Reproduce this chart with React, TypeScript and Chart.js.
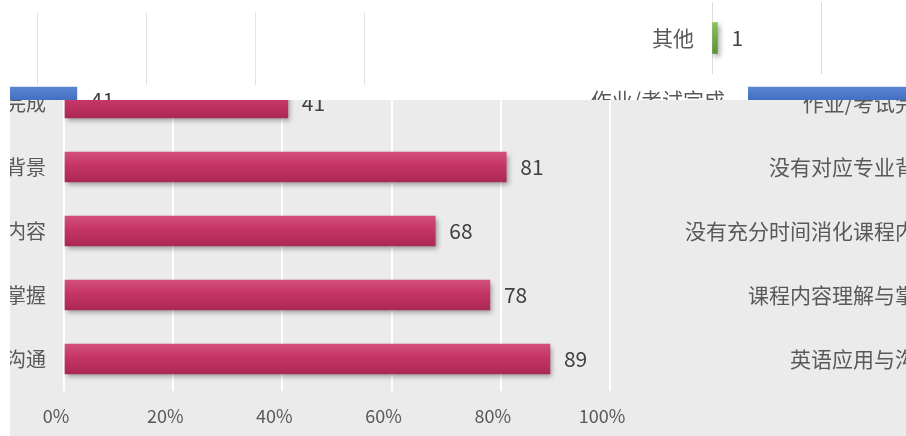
import React, { useEffect, useRef } from "react";
import { Chart, registerables } from "chart.js";
Chart.register(...registerables);

// ---- data ----
const categories = ["作业/考试完成", "没有对应专业背景", "没有充分时间消化课程内容", "课程内容理解与掌握", "英语应用与沟通"];
const counts = [41, 81, 68, 78, 89];
const blueCategory = ["作业/考试完成"];
const blueCount = [41];
const otherCategory = ["其他"];
const otherCount = [1];
const xTickValues = [0, 20, 40, 60, 80, 100];
const xTickLabels = ["0%", "20%", "40%", "60%", "80%", "100%"];

const FONT = '"Noto Sans CJK SC", "Noto Sans", sans-serif';
const TEXT = "#595959";
const PINK: [string, string, string] = ["#d3507c", "#c43566", "#ab2856"];
const BLUE: [string, string, string] = ["#5b87d2", "#4472c4", "#3a62ad"];
const GREEN: [string, string, string] = ["#88c45c", "#70ad47", "#5c953a"];

function barGradient(c3: [string, string, string], half: number) {
  return (c: any) => {
    const chart = c.chart;
    const y = chart.scales && chart.scales.y;
    if (!y || c.dataIndex === undefined) return c3[1];
    const py = y.getPixelForValue(c.dataIndex);
    if (!isFinite(py)) return c3[1];
    const g = chart.ctx.createLinearGradient(0, py - half, 0, py + half);
    g.addColorStop(0, c3[0]);
    g.addColorStop(0.45, c3[1]);
    g.addColorStop(1, c3[2]);
    return g;
  };
}

const shadowPlugin = {
  id: "barShadow",
  beforeDatasetsDraw(chart: any) {
    const c = chart.ctx;
    c.save();
    c.shadowColor = "rgba(0,0,0,0.35)";
    c.shadowBlur = 5;
    c.shadowOffsetX = 2;
    c.shadowOffsetY = 3;
  },
  afterDatasetsDraw(chart: any) {
    chart.ctx.restore();
  },
};

const valueLabelPlugin = {
  id: "valueLabels",
  afterDatasetsDraw(chart: any, _args: any, opts: any) {
    if (!opts || !opts.show) return;
    const ctx = chart.ctx;
    ctx.save();
    ctx.font = `${opts.size}px ${FONT}`;
    ctx.fillStyle = opts.color;
    ctx.textAlign = "left";
    ctx.textBaseline = "middle";
    chart.data.datasets.forEach((ds: any, di: number) => {
      const meta = chart.getDatasetMeta(di);
      meta.data.forEach((el: any, i: number) => {
        ctx.fillText(String(ds.data[i]), el.x + opts.offset, el.y);
      });
    });
    ctx.restore();
  },
};

type Rect = { left: number; top: number; width: number; height: number };

function Panel({ wrap, bg, canvas, build }: { wrap: Rect; bg: string; canvas: Rect; build: () => any }) {
  const ref = useRef<HTMLCanvasElement>(null);
  useEffect(() => {
    const chart = new Chart(ref.current as HTMLCanvasElement, build());
    return () => chart.destroy();
  }, []);
  return (
    <div style={{ position: "absolute", left: wrap.left, top: wrap.top, width: wrap.width, height: wrap.height, overflow: "hidden", background: bg }}>
      <canvas
        ref={ref}
        width={canvas.width}
        height={canvas.height}
        style={{ position: "absolute", left: canvas.left - wrap.left, top: canvas.top - wrap.top, width: canvas.width, height: canvas.height }}
      />
    </div>
  );
}

const baseOpts = {
  indexAxis: "y",
  responsive: false,
  animation: false,
  events: [],
};

function hiddenX() {
  return { display: false, min: 0, max: 100 };
}

// fix a vertical category axis to an exact width and cancel its label padding requests
function fitY(width: number) {
  return (s: any) => {
    s.width = width;
    s.paddingTop = 0;
    s.paddingBottom = 0;
  };
}
function fitX(height: number) {
  return (s: any) => {
    s.height = height;
    s.paddingLeft = 0;
    s.paddingRight = 0;
  };
}

const catY = (size: number, padding: number, width: number) => ({
  grid: { display: false, drawTicks: false },
  border: { display: false },
  ticks: { font: { family: FONT, size }, color: TEXT, padding },
  afterFit: fitY(width),
});

// Main pink chart
const buildMain = () => ({
  type: "bar",
  data: { labels: categories, datasets: [{ data: counts, backgroundColor: barGradient(PINK, 15), barThickness: 30, borderWidth: 0 }] },
  options: {
    ...baseOpts,
    layout: { padding: { top: 11, bottom: 5, left: 0, right: 30 } },
    plugins: { legend: { display: false }, tooltip: { enabled: false }, valueLabels: { show: true, size: 21, color: "#404040", offset: 14 } },
    scales: {
      y: catY(20, 18, 314),
      x: {
        min: 0,
        max: 100,
        afterBuildTicks: (s: any) => { s.ticks = xTickValues.map((v) => ({ value: v })); },
        ticks: {
          callback: (v: any) => { const i = xTickValues.indexOf(Number(v)); return i >= 0 ? xTickLabels[i] : ""; },
          font: { family: FONT, size: 18 },
          color: TEXT,
          padding: 14,
          labelOffset: -8,
          maxRotation: 0,
          autoSkip: false,
        },
        grid: { color: "#ffffff", lineWidth: 2, drawTicks: false },
        border: { display: false },
        afterFit: fitX(40),
      },
    },
  },
  plugins: [shadowPlugin, valueLabelPlugin],
});

// Right panel: same categories, labels cut at the right edge
const buildRight = () => ({
  type: "bar",
  data: { labels: categories, datasets: [{ data: counts, backgroundColor: barGradient(PINK, 15), barThickness: 30, borderWidth: 0 }] },
  options: {
    ...baseOpts,
    layout: { padding: { top: 11, bottom: 9, left: 0, right: 0 } },
    plugins: { legend: { display: false }, tooltip: { enabled: false } },
    scales: { y: catY(21, 18, 455), x: hiddenX() },
  },
  plugins: [shadowPlugin],
});

// Blue strip, left piece (bar end + value)
const buildBlueLeft = () => ({
  type: "bar",
  data: { labels: blueCategory, datasets: [{ data: blueCount, backgroundColor: barGradient(BLUE, 13), barThickness: 26, borderWidth: 0 }] },
  options: {
    ...baseOpts,
    layout: { padding: 0 },
    plugins: { legend: { display: false }, tooltip: { enabled: false }, valueLabels: { show: true, size: 21, color: "#404040", offset: 14 } },
    scales: { y: { display: false }, x: hiddenX() },
  },
  plugins: [valueLabelPlugin],
});

// Blue strip, right piece (category label + bar start)
const buildBlueRight = () => ({
  type: "bar",
  data: { labels: blueCategory, datasets: [{ data: blueCount, backgroundColor: barGradient(BLUE, 13), barThickness: 26, borderWidth: 0 }] },
  options: {
    ...baseOpts,
    layout: { padding: 0 },
    plugins: { legend: { display: false }, tooltip: { enabled: false } },
    scales: { y: catY(21, 23, 348), x: hiddenX() },
  },
});

// Top strip: "其他"
const buildOther = () => ({
  type: "bar",
  data: { labels: otherCategory, datasets: [{ data: otherCount, backgroundColor: barGradient(GREEN, 15), barThickness: 31, borderWidth: 0 }] },
  options: {
    ...baseOpts,
    layout: { padding: 0 },
    plugins: { legend: { display: false }, tooltip: { enabled: false }, valueLabels: { show: true, size: 21, color: "#404040", offset: 14 } },
    scales: {
      y: catY(21, 18, 412),
      x: {
        min: 0,
        max: 100,
        afterBuildTicks: (s: any) => { s.ticks = xTickValues.map((v) => ({ value: v })); },
        ticks: { display: false },
        grid: { color: "#dcdcdc", lineWidth: 1, drawTicks: false },
        border: { display: false },
        afterFit: fitX(0),
      },
    },
  },
  plugins: [shadowPlugin, valueLabelPlugin],
});

// Top-left strip: gridlines only
const buildTopGrid = () => ({
  type: "bar",
  data: { labels: [], datasets: [] },
  options: {
    ...baseOpts,
    layout: { padding: 0 },
    plugins: { legend: { display: false }, tooltip: { enabled: false } },
    scales: {
      y: { display: false },
      x: {
        min: 0,
        max: 100,
        afterBuildTicks: (s: any) => { s.ticks = xTickValues.map((v) => ({ value: v })); },
        ticks: { display: false },
        grid: { color: "#e2e2e2", lineWidth: 1, drawTicks: false },
        border: { display: false },
        afterFit: fitX(0),
      },
    },
  },
});

export default function App() {
  useEffect(() => {
    document.body.style.margin = "0";
  }, []);
  return (
    <div style={{ position: "relative", width: 906, height: 436, overflow: "hidden", background: "#ffffff" }}>
      <Panel wrap={{ left: 0, top: 0, width: 400, height: 85 }} bg="#ffffff" canvas={{ left: 37, top: 12, width: 546, height: 73 }} build={buildTopGrid} />
      <Panel wrap={{ left: 380, top: 0, width: 526, height: 85 }} bg="#ffffff" canvas={{ left: 300, top: 2, width: 958, height: 72 }} build={buildOther} />
      <Panel wrap={{ left: 10, top: 85, width: 250, height: 15 }} bg="#ffffff" canvas={{ left: -147, top: 68, width: 546, height: 64 }} build={buildBlueLeft} />
      <Panel wrap={{ left: 560, top: 85, width: 346, height: 15 }} bg="#ffffff" canvas={{ left: 400, top: 68, width: 894, height: 64 }} build={buildBlueRight} />
      <Panel wrap={{ left: 612, top: 100, width: 294, height: 336 }} bg="#ebebeb" canvas={{ left: 500, top: 60, width: 1000, height: 340 }} build={buildRight} />
      <Panel wrap={{ left: 10, top: 100, width: 630, height: 336 }} bg="#ebebeb" canvas={{ left: -250, top: 60, width: 890, height: 376 }} build={buildMain} />
    </div>
  );
}
